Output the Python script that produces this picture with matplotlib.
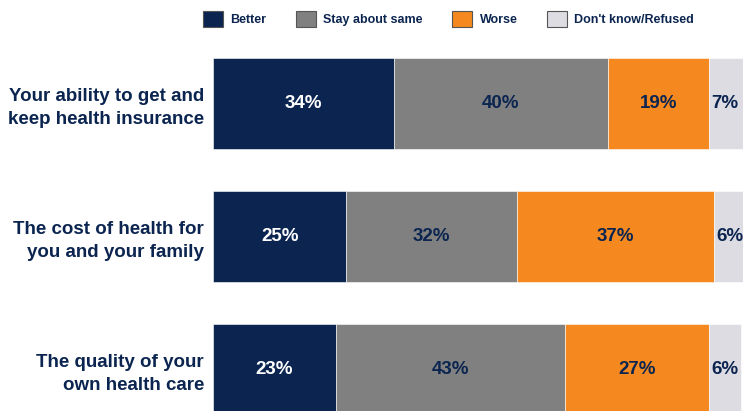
import matplotlib.pyplot as plt
import numpy as np

plt.rcParams['font.family'] = ['Liberation Sans', 'DejaVu Sans']

categories = ["Your ability to get and\nkeep health insurance",
              "The cost of health for\nyou and your family",
              "The quality of your\nown health care"]
series_names = ["Better", "Stay about same", "Worse", "Don't know/Refused"]
better = [34, 25, 23]
same = [40, 32, 43]
worse = [19, 37, 27]
dont_know = [7, 6, 6]

colors = ["#0b2550", "#808080", "#f5891f", "#dddce2"]
label_colors = ["white", "#0b2550", "#0b2550", "#0b2550"]
navy = "#0b2550"

fig = plt.figure(figsize=(7.43, 4.11), dpi=100)
ax = fig.add_axes([213 / 743, 0, 530 / 743, 371 / 411])

y = np.arange(len(categories))
left = np.zeros(len(categories))
for name, vals, col, tcol in zip(series_names, [better, same, worse, dont_know], colors, label_colors):
    vals = np.array(vals, dtype=float)
    bars = ax.barh(y, vals, left=left, height=0.684, color=col, label=name,
                   edgecolor="white", linewidth=0.4)
    for b, v in zip(bars, vals):
        cx = b.get_x() + b.get_width() / 2
        if name == "Don't know/Refused":
            cx = b.get_x() + 3.0
        ax.text(cx, b.get_y() + b.get_height() / 2, f"{int(v)}%", ha="center", va="center",
                color=tcol, fontsize=13.5, fontweight="bold")
    left += vals

ax.set_xlim(0, 99.4)
ax.set_ylim(2.312, -0.477)
ax.set_yticks(y)
ax.set_yticklabels(categories, fontsize=13.5, fontweight="bold", color=navy, linespacing=1.4)
ax.tick_params(axis="y", length=0, pad=6.5)
ax.set_xticks([])
for s in ax.spines.values():
    s.set_visible(False)

handles, labels = ax.get_legend_handles_labels()
leg = fig.legend(handles, labels, ncol=4, loc="center left", bbox_to_anchor=(203 / 743, 1 - 19 / 411),
                 frameon=False, fontsize=9, handlelength=1.6, handleheight=1.6,
                 handletextpad=0.6, columnspacing=2.35, borderaxespad=0, borderpad=0)
for h in leg.legend_handles:
    h.set_edgecolor("#555555")
    h.set_linewidth(0.8)
for t in leg.get_texts():
    t.set_color(navy)
    t.set_fontweight("bold")

fig.savefig("out.png", dpi=100)
